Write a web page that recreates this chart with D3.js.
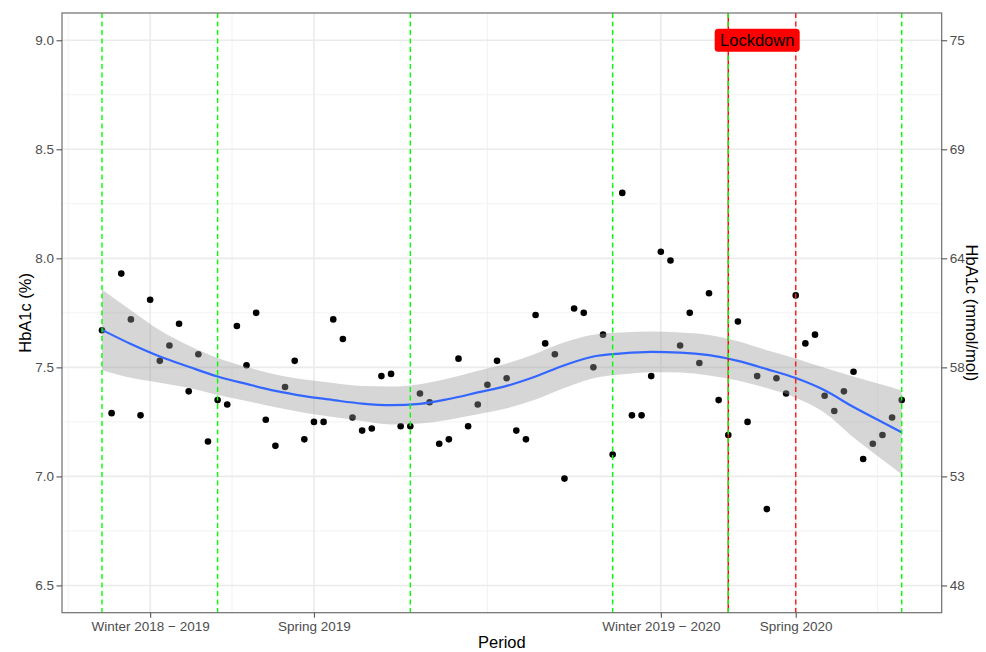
<!DOCTYPE html>
<html>
<head>
<meta charset="utf-8">
<script src="https://cdn.jsdelivr.net/npm/d3@7"></script>
<style>
  body { margin: 0; background: #fff; }
  svg text { font-family: "Liberation Sans", Arial, sans-serif; }
</style>
</head>
<body>
<svg width="986" height="652"></svg>
<script>
// weekly HbA1c means (%), one per week
const hba1c = [
  7.67, 7.29, 7.93, 7.72, 7.28, 7.81, 7.53, 7.60, 7.70, 7.39,
  7.56, 7.16, 7.35, 7.33, 7.69, 7.51, 7.75, 7.26, 7.14, 7.41,
  7.53, 7.17, 7.25, 7.25, 7.72, 7.63, 7.27, 7.21, 7.22, 7.46,
  7.47, 7.23, 7.23, 7.38, 7.34, 7.15, 7.17, 7.54, 7.23, 7.33,
  7.42, 7.53, 7.45, 7.21, 7.17, 7.74, 7.61, 7.56, 6.99, 7.77,
  7.75, 7.50, 7.65, 7.10, 8.30, 7.28, 7.28, 7.46, 8.03, 7.99,
  7.60, 7.75, 7.52, 7.84, 7.35, 7.19, 7.71, 7.25, 7.46, 6.85,
  7.45, 7.38, 7.83, 7.61, 7.65, 7.37, 7.30, 7.39, 7.48, 7.08,
  7.15, 7.19, 7.27, 7.35
];

// loess smooth
const smoothWeek = [0, 3, 6, 9, 12, 15, 18, 21, 24, 27, 30, 33, 36, 39, 42,
  45, 48, 51, 54, 57, 60, 63, 66, 69, 72, 75, 78, 81, 83];
const smoothFit = [7.672, 7.607, 7.550, 7.503, 7.458, 7.424, 7.392, 7.368, 7.350,
  7.334, 7.327, 7.333, 7.355, 7.385, 7.415, 7.458, 7.510, 7.550, 7.564, 7.571,
  7.568, 7.556, 7.530, 7.492, 7.451, 7.395, 7.318, 7.248, 7.202];
const smoothLow = [7.487, 7.452, 7.430, 7.406, 7.373, 7.346, 7.317, 7.292, 7.272,
  7.254, 7.238, 7.243, 7.260, 7.285, 7.312, 7.353, 7.405, 7.450, 7.468, 7.478,
  7.476, 7.463, 7.440, 7.405, 7.361, 7.292, 7.178, 7.076, 7.010];
const smoothHigh = [7.857, 7.762, 7.670, 7.600, 7.543, 7.502, 7.467, 7.444, 7.428,
  7.414, 7.412, 7.423, 7.450, 7.485, 7.518, 7.563, 7.615, 7.650, 7.660, 7.664,
  7.660, 7.649, 7.620, 7.579, 7.541, 7.498, 7.458, 7.420, 7.394];

const periodBreaks = [5, 22, 58, 72];
const periodLabels = ["Winter 2018 \u2212 2019", "Spring 2019", "Winter 2019 \u2212 2020", "Spring 2020"];
const periodMinor = [-3.5, 13.5, 40, 65, 80.5];

const seasonLines = [0, 12, 32, 53, 65, 83];
const lockdownStart = 65;
const lockdownEnd = 72;
const lockdownLabelWeek = 68;

const yTicks = [6.5, 7.0, 7.5, 8.0, 8.5, 9.0];
const yMinor = [6.75, 7.25, 7.75, 8.25, 8.75];
const mmolLabels = ["48", "53", "58", "64", "69", "75"];

const svg = d3.select("svg");
const margin = { top: 13, right: 44.3, bottom: 39.3, left: 62 };
const width = +svg.attr("width");
const height = +svg.attr("height");
const innerWidth = width - margin.left - margin.right;
const innerHeight = height - margin.top - margin.bottom;

const g = svg.append("g")
  .attr("transform", `translate(${margin.left}, ${margin.top})`);

const xScale = d3.scaleLinear()
  .domain([-4.15, 87.15])
  .range([0, innerWidth]);

const yScale = d3.scaleLinear()
  .domain([6.375, 9.125])
  .range([innerHeight, 0]);

// grid
g.selectAll(".ygrid-minor").data(yMinor).enter().append("line")
  .attr("x1", 0).attr("x2", innerWidth)
  .attr("y1", d => yScale(d)).attr("y2", d => yScale(d))
  .attr("stroke", "#f2f2f2").attr("stroke-width", 1);
g.selectAll(".xgrid-minor").data(periodMinor).enter().append("line")
  .attr("y1", 0).attr("y2", innerHeight)
  .attr("x1", d => xScale(d)).attr("x2", d => xScale(d))
  .attr("stroke", "#f2f2f2").attr("stroke-width", 1);
g.selectAll(".ygrid").data(yTicks).enter().append("line")
  .attr("x1", 0).attr("x2", innerWidth)
  .attr("y1", d => yScale(d)).attr("y2", d => yScale(d))
  .attr("stroke", "#ebebeb").attr("stroke-width", 1.6);
g.selectAll(".xgrid").data(periodBreaks).enter().append("line")
  .attr("y1", 0).attr("y2", innerHeight)
  .attr("x1", d => xScale(d)).attr("x2", d => xScale(d))
  .attr("stroke", "#ebebeb").attr("stroke-width", 1.6);

// points
g.selectAll(".pt").data(hba1c).enter().append("circle")
  .attr("cx", (d, i) => xScale(i))
  .attr("cy", d => yScale(d))
  .attr("r", 3.3)
  .attr("fill", "#000");

// smooth band + line
const smooth = smoothWeek.map((w, i) => ({ w, fit: smoothFit[i], lo: smoothLow[i], hi: smoothHigh[i] }));

g.append("path")
  .datum(smooth)
  .attr("fill", "#999999")
  .attr("fill-opacity", 0.4)
  .attr("d", d3.area()
    .x(d => xScale(d.w))
    .y0(d => yScale(d.lo))
    .y1(d => yScale(d.hi))
    .curve(d3.curveMonotoneX));

g.append("path")
  .datum(smooth)
  .attr("fill", "none")
  .attr("stroke", "#3366ff")
  .attr("stroke-width", 2.2)
  .attr("d", d3.line()
    .x(d => xScale(d.w))
    .y(d => yScale(d.fit))
    .curve(d3.curveMonotoneX));

// vertical reference lines
g.append("line")
  .attr("x1", xScale(lockdownStart)).attr("x2", xScale(lockdownStart))
  .attr("y1", 0).attr("y2", innerHeight)
  .attr("stroke", "#ff0000").attr("stroke-width", 1.4);
g.append("line")
  .attr("x1", xScale(lockdownEnd)).attr("x2", xScale(lockdownEnd))
  .attr("y1", 0).attr("y2", innerHeight)
  .attr("stroke", "#ff2020").attr("stroke-width", 1.5)
  .attr("stroke-dasharray", "5,3.5");
g.selectAll(".season").data(seasonLines).enter().append("line")
  .attr("x1", d => xScale(d)).attr("x2", d => xScale(d))
  .attr("y1", 0).attr("y2", innerHeight)
  .attr("stroke", "#00ff00").attr("stroke-width", 1.4)
  .attr("stroke-dasharray", "5,3.5");

// lockdown label
const lab = g.append("g")
  .attr("transform", `translate(${xScale(lockdownLabelWeek)}, ${yScale(9.0)})`);
lab.append("rect")
  .attr("x", -42.5).attr("y", -11.5)
  .attr("width", 85).attr("height", 23)
  .attr("rx", 3.5)
  .attr("fill", "#ff0000");
lab.append("text")
  .attr("text-anchor", "middle")
  .attr("dy", "0.36em")
  .attr("font-size", "16.5px")
  .attr("fill", "#000")
  .text("Lockdown");

// panel border
g.append("rect")
  .attr("width", innerWidth).attr("height", innerHeight)
  .attr("fill", "none")
  .attr("stroke", "#6e6e6e").attr("stroke-width", 1.2);

// axes
const yAxis = d3.axisLeft(yScale).tickValues(yTicks)
  .tickFormat(d3.format(".1f")).tickSize(5.5).tickPadding(2.5);
const yAxisRight = d3.axisRight(yScale).tickValues(yTicks)
  .tickFormat((d, i) => mmolLabels[i]).tickSize(5.5).tickPadding(2.5);
const xAxis = d3.axisBottom(xScale).tickValues(periodBreaks)
  .tickFormat((d, i) => periodLabels[i]).tickSize(5).tickPadding(4);

const styleAxis = sel => {
  sel.select(".domain").remove();
  sel.selectAll(".tick line").attr("stroke", "#555").attr("stroke-width", 1.1);
  sel.selectAll(".tick text").attr("fill", "#4d4d4d").attr("font-size", "13.5px")
    .attr("font-family", "'Liberation Sans', Arial, sans-serif");
};

g.append("g").call(yAxis).call(styleAxis);
g.append("g").attr("transform", `translate(${innerWidth}, 0)`).call(yAxisRight).call(styleAxis);
g.append("g").attr("transform", `translate(0, ${innerHeight})`).call(xAxis).call(styleAxis);

// titles
svg.append("text")
  .attr("x", margin.left + innerWidth / 2)
  .attr("y", 648)
  .attr("text-anchor", "middle")
  .attr("font-size", "16.5px")
  .attr("fill", "#000")
  .text("Period");

svg.append("text")
  .attr("transform", `translate(31, ${margin.top + innerHeight / 2}) rotate(-90)`)
  .attr("text-anchor", "middle")
  .attr("font-size", "16.5px")
  .attr("fill", "#000")
  .text("HbA1c (%)");

svg.append("text")
  .attr("transform", `translate(966, ${margin.top + innerHeight / 2}) rotate(90)`)
  .attr("text-anchor", "middle")
  .attr("font-size", "16.5px")
  .attr("fill", "#000")
  .text("HbA1c (mmol/mol)");
</script>
</body>
</html>
